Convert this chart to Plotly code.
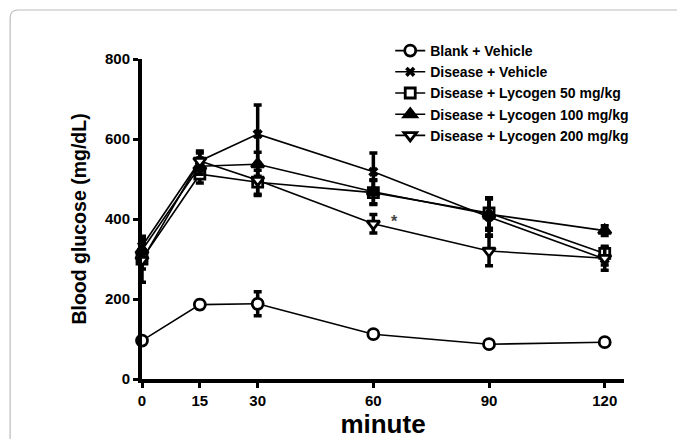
import plotly.graph_objects as go

minutes = [0, 15, 30, 60, 90, 120]
series_names = ["Blank + Vehicle", "Disease + Vehicle", "Disease + Lycogen 50 mg/kg",
                "Disease + Lycogen 100 mg/kg", "Disease + Lycogen 200 mg/kg"]
blank_vehicle = [96, 186, 188, 112, 87, 92]
blank_vehicle_err = [5, 10, 30, 6, 5, 6]
disease_vehicle = [332, 545, 612, 518, 405, 300]
disease_vehicle_err = [25, 20, 73, 47, 45, 15]
lyco_50 = [300, 512, 492, 466, 415, 314]
lyco_50_err = [25, 22, 30, 30, 38, 15]
lyco_100 = [322, 532, 537, 468, 412, 371]
lyco_100_err = [25, 20, 30, 30, 40, 12]
lyco_200 = [297, 545, 497, 388, 320, 302]
lyco_200_err = [55, 25, 38, 23, 37, 30]
y_ticks = [0, 200, 400, 600, 800]

FONT = "Liberation Sans, Arial, sans-serif"

styles = [
    dict(symbol="circle", color="white", size=11),
    dict(symbol="x", color="black", size=9),
    dict(symbol="square", color="white", size=10),
    dict(symbol="triangle-up", color="black", size=11),
    dict(symbol="triangle-down", color="white", size=11),
]
values = [blank_vehicle, disease_vehicle, lyco_50, lyco_100, lyco_200]
errors = [blank_vehicle_err, disease_vehicle_err, lyco_50_err, lyco_100_err, lyco_200_err]

fig = go.Figure()
for i in range(5):
    st = styles[i]
    lw = 0 if st["symbol"] == "x" else 2.8
    fig.add_trace(go.Scatter(
        x=minutes, y=values[i], name=series_names[i], mode="lines+markers",
        line=dict(color="black", width=1.6),
        marker=dict(symbol=st["symbol"], size=st["size"], color=st["color"],
                    line=dict(color="black", width=lw)),
        error_y=dict(type="data", array=errors[i], visible=True, color="black",
                     thickness=3.5, width=4),
        cliponaxis=False,
        legendrank=i + 1,
    ))

fig.add_annotation(x=65.5, y=395, text="*", showarrow=False, xref="x", yref="y",
                   font=dict(family=FONT, size=16, color="#444"))

# card frame
rx, ry = 8 / 482.5, 8 / 320
x0, y0 = (10 - 142) / 482.5, (379 - 10) / 320
fig.add_shape(type="path", xref="paper", yref="paper",
              path=f"M {x0} -0.5 L {x0} {y0 - ry} Q {x0} {y0} {x0 + rx} {y0} L 1.3 {y0}",
              line=dict(color="#bbbbbb", width=1.2), layer="below")

fig.update_layout(
    width=677, height=439,
    margin=dict(l=142, r=52.5, t=59, b=60, autoexpand=False),
    paper_bgcolor="white", plot_bgcolor="white",
    font=dict(family=FONT, color="black", size=14, weight="bold"),
    showlegend=True,
    legend=dict(x=0.515, y=1.075, xanchor="left", yanchor="top",
                font=dict(family=FONT, size=14, weight="bold"),
                bgcolor="rgba(0,0,0,0)", tracegroupgap=0),
    xaxis=dict(range=[0, 125], tickvals=minutes, ticktext=[str(m) for m in minutes],
               showline=True, linecolor="black", linewidth=4, ticks="outside",
               tickwidth=3, ticklen=5, tickcolor="black", showgrid=False, zeroline=False,
               automargin=False,
               tickfont=dict(family=FONT, size=15, weight="bold"),
               title=dict(text="minute", font=dict(family=FONT, size=26, weight="bold"),
                          standoff=13)),
    yaxis=dict(range=[0, 800], tickvals=y_ticks,
               showline=True, linecolor="black", linewidth=4, ticks="outside",
               tickwidth=3, ticklen=5, tickcolor="black", showgrid=False, zeroline=False,
               automargin=False,
               tickfont=dict(family=FONT, size=15, weight="bold"),
               title=dict(text="Blood glucose (mg/dL)",
                          font=dict(family=FONT, size=19.5, weight="bold"), standoff=14)),
)

fig.write_html("out.html")
